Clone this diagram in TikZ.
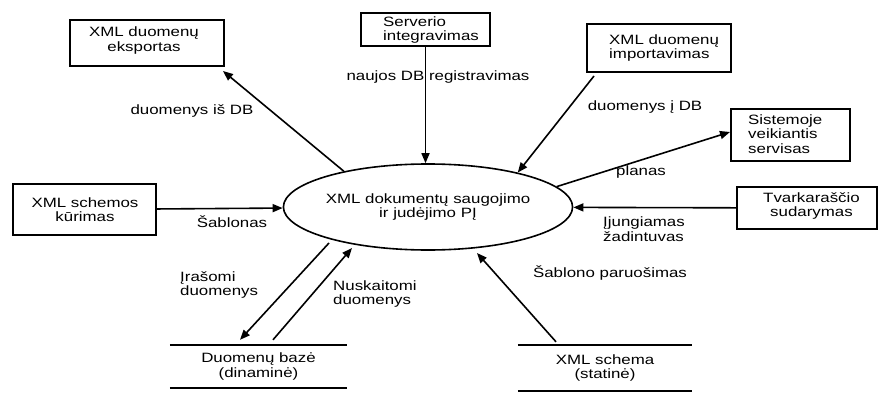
\documentclass[tikz,border=0pt]{standalone}
\usepackage{fontspec}
\setmainfont{Liberation Sans}[FakeStretch=1.25]
\usetikzlibrary{arrows.meta,shapes.geometric,calc}
\begin{document}
\begin{tikzpicture}[x=1pt,y=-1pt,
  every node/.style={font=\fontsize{13.5}{14.5}\selectfont, inner sep=0pt},
  box/.style={draw, rectangle, line width=2pt},
  proc/.style={draw, ellipse, line width=1.6pt, align=center},
  store/.style={align=center},
  storeline/.style={line width=1.6pt},
  flow/.style={line width=1.6pt, -{Triangle[length=10pt,width=8pt]}},
  boxtext/.style={align=left, anchor=west},
]
\useasboundingbox (0,0) rectangle (878,393);

% external entities
\node[box, minimum width=154pt, minimum height=46pt] (b1) at (147,43) {};
\node[align=center] (t1) at (144,40.5) {XML duomenų\\eksportas};

\node[box, minimum width=129pt, minimum height=33pt] (b2) at (425.5,29.5) {};
\node[boxtext] (t2) at (383,30) {Serverio\\integravimas};

\node[box, minimum width=144pt, minimum height=48pt] (b3) at (659,48) {};
\node[boxtext] (t3) at (609,48) {XML duomenų\\importavimas};

\node[box, minimum width=119pt, minimum height=52pt] (b4) at (790.5,135) {};
\node[boxtext] (t4) at (748,134) {Sistemoje\\veikiantis\\servisas};

\node[box, minimum width=143pt, minimum height=51pt] (b5) at (84.5,209.5) {};
\node[align=center] (t5) at (85,209.5) {XML schemos\\kūrimas};

\node[box, minimum width=140pt, minimum height=42pt] (b6) at (807,208) {};
\node[align=center] (t6) at (811.5,206) {Tvarkaraščio\\sudarymas};

% central process
\node[proc, minimum width=278pt, minimum height=86pt] (P) at (428,207)
  {XML dokumentų saugojimo\\ir judėjimo PĮ};

% data stores
\node[store, minimum width=177pt, minimum height=43pt] (db) at (258.5,366.5)
  {Duomenų bazė\\(dinaminė)};
\draw[storeline] (db.north west) -- (db.north east) (db.south west) -- (db.south east);

\node[store, minimum width=174pt, minimum height=46pt] (xs) at (605,368)
  {XML schema\\(statinė)};
\draw[storeline] (xs.north west) -- (xs.north east) (xs.south west) -- (xs.south east);

% flow labels
\node (l1) at (192,111) {duomenys iš DB};
\node (l2) at (438,77) {naujos DB registravimas};
\node (l3) at (645,107) {duomenys į DB};
\node (l4) at (641,172) {planas};
\node (l5) at (232,222) {Šablonas};
\node[boxtext] (l6) at (603,229) {Įjungiamas\\žadintuvas};
\node (l7) at (610,273) {Šablono paruošimas};
\node[boxtext] (l8) at (180,285) {Įrašomi\\duomenys};
\node[boxtext] (l9) at (333,294) {Nuskaitomi\\duomenys};

% flows
\draw[flow] (P.157.4) -- ([shift={(-2,4)}]b1.south east);
\draw[flow] (b2.south) -- (b2.south |- P.north);
\draw[flow] ([xshift=8pt,yshift=-3pt]b3.south west) -- (P.21.7);
\draw[flow] (P.9.7) -- ([yshift=3pt]b4.west);
\draw[flow] (b6) -- (P);
\draw[flow] (b5) -- (P);
\draw[flow] ($(P.center)+(-99,36)$) -- ($(db.north)+(-18.5,-5)$);
\draw[flow] ($(db.north)+(14.5,-5)$) -- ($(P.center)+(-76,41)$);
\draw[flow] ($(xs.north)+(-49,-3)$) -- ($(P.center)+(49,46)$);
\end{tikzpicture}
\end{document}
